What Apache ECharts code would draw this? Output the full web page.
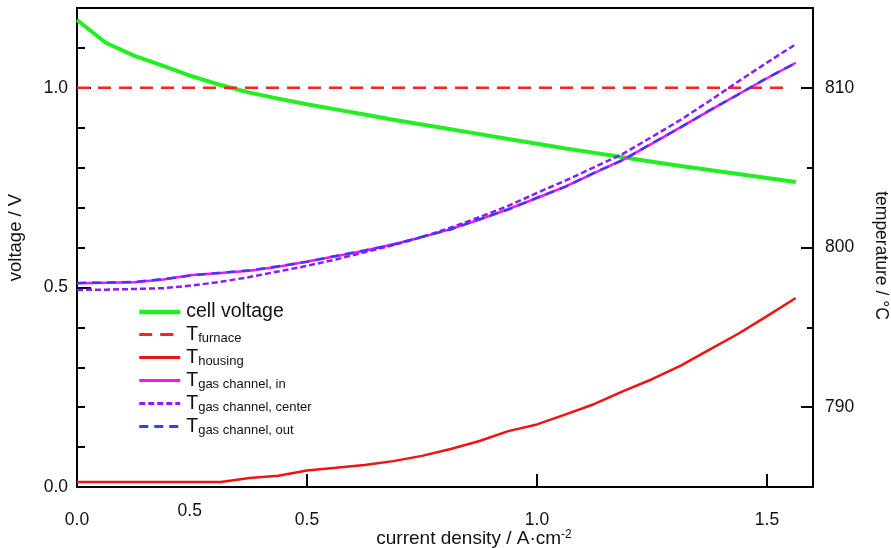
<!DOCTYPE html>
<html>
<head>
<meta charset="utf-8">
<script src="https://cdn.jsdelivr.net/npm/echarts@6/dist/echarts.min.js"></script>
<style>
  html, body { margin: 0; padding: 0; background: #fff; }
  #chart { width: 891px; height: 548px; }
</style>
</head>
<body>
<div id="chart"></div>
<script>
// current density / A cm^-2
const currentDensity = [0, 0.0625, 0.125, 0.1875, 0.25, 0.3125, 0.375, 0.4375, 0.5, 0.5625,
  0.625, 0.6875, 0.75, 0.8125, 0.875, 0.9375, 1.0, 1.0625, 1.125, 1.1875,
  1.25, 1.3125, 1.375, 1.4375, 1.5, 1.5625];

// voltage / V
const cellVoltage = [1.170, 1.113, 1.080, 1.055, 1.029, 1.007, 0.988, 0.973, 0.959, 0.946,
  0.933, 0.920, 0.908, 0.896, 0.884, 0.872, 0.860, 0.848, 0.837, 0.826,
  0.815, 0.804, 0.794, 0.784, 0.774, 0.764];

// temperatures / °C
const furnaceX = [0, 1.55];
const tFurnace = [810, 810];
const tHousing = [785.32, 785.32, 785.32, 785.32, 785.32, 785.32, 785.57, 785.70, 786.03, 786.20,
  786.38, 786.62, 786.95, 787.38, 787.88, 788.50, 788.92, 789.55, 790.20, 791.00,
  791.75, 792.60, 793.60, 794.60, 795.70, 796.84];
const tGasIn = [797.76, 797.80, 797.82, 798.00, 798.28, 798.40, 798.55, 798.80, 799.12, 799.45,
  799.80, 800.20, 800.65, 801.15, 801.75, 802.40, 803.10, 803.83, 804.67, 805.50,
  806.51, 807.54, 808.57, 809.60, 810.60, 811.57];
const tGasCenter = [797.34, 797.36, 797.40, 797.45, 797.62, 797.85, 798.15, 798.50, 798.85, 799.25,
  799.70, 800.15, 800.65, 801.25, 801.90, 802.60, 803.42, 804.20, 805.04, 805.88,
  806.93, 808.00, 809.18, 810.40, 811.58, 812.73];
const tGasOut = [797.78, 797.80, 797.84, 798.02, 798.26, 798.42, 798.57, 798.82, 799.10, 799.47,
  799.82, 800.18, 800.67, 801.13, 801.77, 802.38, 803.12, 803.81, 804.69, 805.48,
  806.53, 807.52, 808.59, 809.58, 810.62, 811.55];

// tick labels
const xLabels = [0, 0.5, 1.0, 1.5];
const xTicks = [0.5, 1.0, 1.5];
const strayXLabel = [0.245];
const voltLabels = [0, 0.5, 1.0];
const tempLabels = [790, 800, 810];

const FONT = '"Liberation Sans", Arial, sans-serif';
const TXT = '#111';

function pairs(xs, ys) {
  return xs.map((x, i) => [x, ys[i]]);
}

const legendNames = {
  'cell voltage': '{a|cell voltage}',
  'T_furnace': '{t|T}{s|furnace}',
  'T_housing': '{t|T}{s|housing}',
  'T_in': '{t|T}{s|gas channel, in}',
  'T_center': '{t|T}{s|gas channel, center}',
  'T_out': '{t|T}{s|gas channel, out}'
};
const legendWidths = { 'cell voltage': 4.5 };

const chart = echarts.init(document.getElementById('chart'));
const option = {
  animation: false,
  backgroundColor: '#fff',
  grid: {
    left: 77, right: 78, top: 8, bottom: 61,
    outerBoundsMode: 'none',
    containLabel: false,
    show: true, borderColor: '#000', borderWidth: 2, backgroundColor: 'transparent'
  },
  legend: {
    orient: 'vertical',
    left: 132,
    top: 297,
    itemWidth: 41,
    itemHeight: 21,
    itemGap: 2.5,
    selectedMode: false,
    itemStyle: { opacity: 0 },
    data: Object.keys(legendNames).map(name => ({
      name,
      lineStyle: { width: legendWidths[name] || 3 }
    })),
    formatter: name => legendNames[name],
    textStyle: {
      color: TXT,
      fontFamily: FONT,
      rich: {
        a: { fontSize: 19.5, fontFamily: FONT, color: TXT, padding: [0, 0, 0, 1] },
        t: { fontSize: 19.5, fontFamily: FONT, color: TXT, padding: [0, 0, 0, 1] },
        s: { fontSize: 13, fontFamily: FONT, color: TXT, padding: [8, 0, 0, 0] }
      }
    }
  },
  xAxis: [
    {
      type: 'value', min: 0, max: 1.6, position: 'bottom',
      axisLine: { show: false },
      axisTick: { show: true, inside: true, length: 13, customValues: xTicks, lineStyle: { color: '#000', width: 2 } },
      axisLabel: {
        customValues: xLabels, margin: 24, color: TXT, fontSize: 17.5, fontFamily: FONT,
        formatter: v => v.toFixed(1)
      },
      splitLine: { show: false },
      name: 'current density / A·cm{sup|-2}',
      nameLocation: 'middle',
      nameGap: 42,
      nameMoveOverlap: false,
      nameTextStyle: {
        color: TXT, fontSize: 19, fontFamily: FONT, padding: [0, 0, 0, 58],
        rich: { sup: { fontSize: 12, fontFamily: FONT, color: TXT, verticalAlign: 'top', padding: [0, 0, 7, 0] } }
      }
    },
    {
      type: 'value', min: 0, max: 1.6, position: 'bottom',
      axisLine: { show: false },
      axisTick: { show: false },
      axisLabel: {
        customValues: strayXLabel, margin: 15, color: TXT, fontSize: 17.5, fontFamily: FONT,
        formatter: () => '0.5'
      },
      splitLine: { show: false }
    }
  ],
  yAxis: [
    {
      type: 'value', min: 0, max: 1.2, interval: 0.1, position: 'left',
      axisLine: { show: false },
      axisTick: { show: true, inside: true, length: 8, lineStyle: { color: '#000', width: 2 } },
      axisLabel: { show: false },
      splitLine: { show: false }
    },
    {
      type: 'value', min: 0, max: 1.2, position: 'left',
      axisLine: { show: false },
      axisTick: { show: true, inside: true, length: 14, customValues: voltLabels, lineStyle: { color: '#000', width: 2 } },
      axisLabel: {
        customValues: voltLabels, margin: 9, color: TXT, fontSize: 17.5, fontFamily: FONT,
        formatter: v => v.toFixed(1)
      },
      splitLine: { show: false },
      name: 'voltage / V',
      nameLocation: 'middle',
      nameGap: 52,
      nameMoveOverlap: false,
      nameTextStyle: { color: TXT, fontSize: 18.5, fontFamily: FONT, padding: [0, 0, 0, 20] }
    },
    {
      type: 'value', min: 785, max: 815, interval: 5, position: 'right',
      axisLine: { show: false },
      axisTick: { show: true, inside: true, length: 6, lineStyle: { color: '#000', width: 2 } },
      axisLabel: { show: false },
      splitLine: { show: false }
    },
    {
      type: 'value', min: 785, max: 815, position: 'right',
      axisLine: { show: false },
      axisTick: { show: true, inside: true, length: 12, customValues: tempLabels, lineStyle: { color: '#000', width: 2 } },
      axisLabel: {
        customValues: tempLabels, margin: 12, color: TXT, fontSize: 17.5, fontFamily: FONT
      },
      splitLine: { show: false },
      name: 'temperature / °C',
      nameLocation: 'middle',
      nameRotate: -90,
      nameGap: 59,
      nameMoveOverlap: false,
      nameTextStyle: { color: TXT, fontSize: 17.5, fontFamily: FONT, padding: [0, 0, 0, 16] }
    }
  ],
  series: [
    {
      name: 'cell voltage', type: 'line', yAxisIndex: 1, symbol: 'none',
      data: pairs(currentDensity, cellVoltage),
      lineStyle: { color: '#22ee22', width: 4 }, itemStyle: { color: '#22ee22' }
    },
    {
      name: 'T_furnace', type: 'line', yAxisIndex: 3, symbol: 'none',
      data: pairs(furnaceX, tFurnace),
      lineStyle: { color: '#ff2222', width: 2.5, type: [13, 8] }, itemStyle: { color: '#ff2222' }
    },
    {
      name: 'T_housing', type: 'line', yAxisIndex: 3, symbol: 'none',
      data: pairs(currentDensity, tHousing),
      lineStyle: { color: '#ee1414', width: 2.5 }, itemStyle: { color: '#ee1414' }
    },
    {
      name: 'T_in', type: 'line', yAxisIndex: 3, symbol: 'none',
      data: pairs(currentDensity, tGasIn),
      lineStyle: { color: '#ff11ff', width: 2.5 }, itemStyle: { color: '#ff11ff' }
    },
    {
      name: 'T_center', type: 'line', yAxisIndex: 3, symbol: 'none',
      data: pairs(currentDensity, tGasCenter),
      lineStyle: { color: '#8a1cff', width: 2.5, type: [6, 3] }, itemStyle: { color: '#8a1cff' }
    },
    {
      name: 'T_out', type: 'line', yAxisIndex: 3, symbol: 'none',
      data: pairs(currentDensity, tGasOut),
      lineStyle: { color: '#3b3bff', width: 2.5, type: [9, 6] }, itemStyle: { color: '#3b3bff' }
    }
  ]
};
chart.setOption(option);
</script>
</body>
</html>
